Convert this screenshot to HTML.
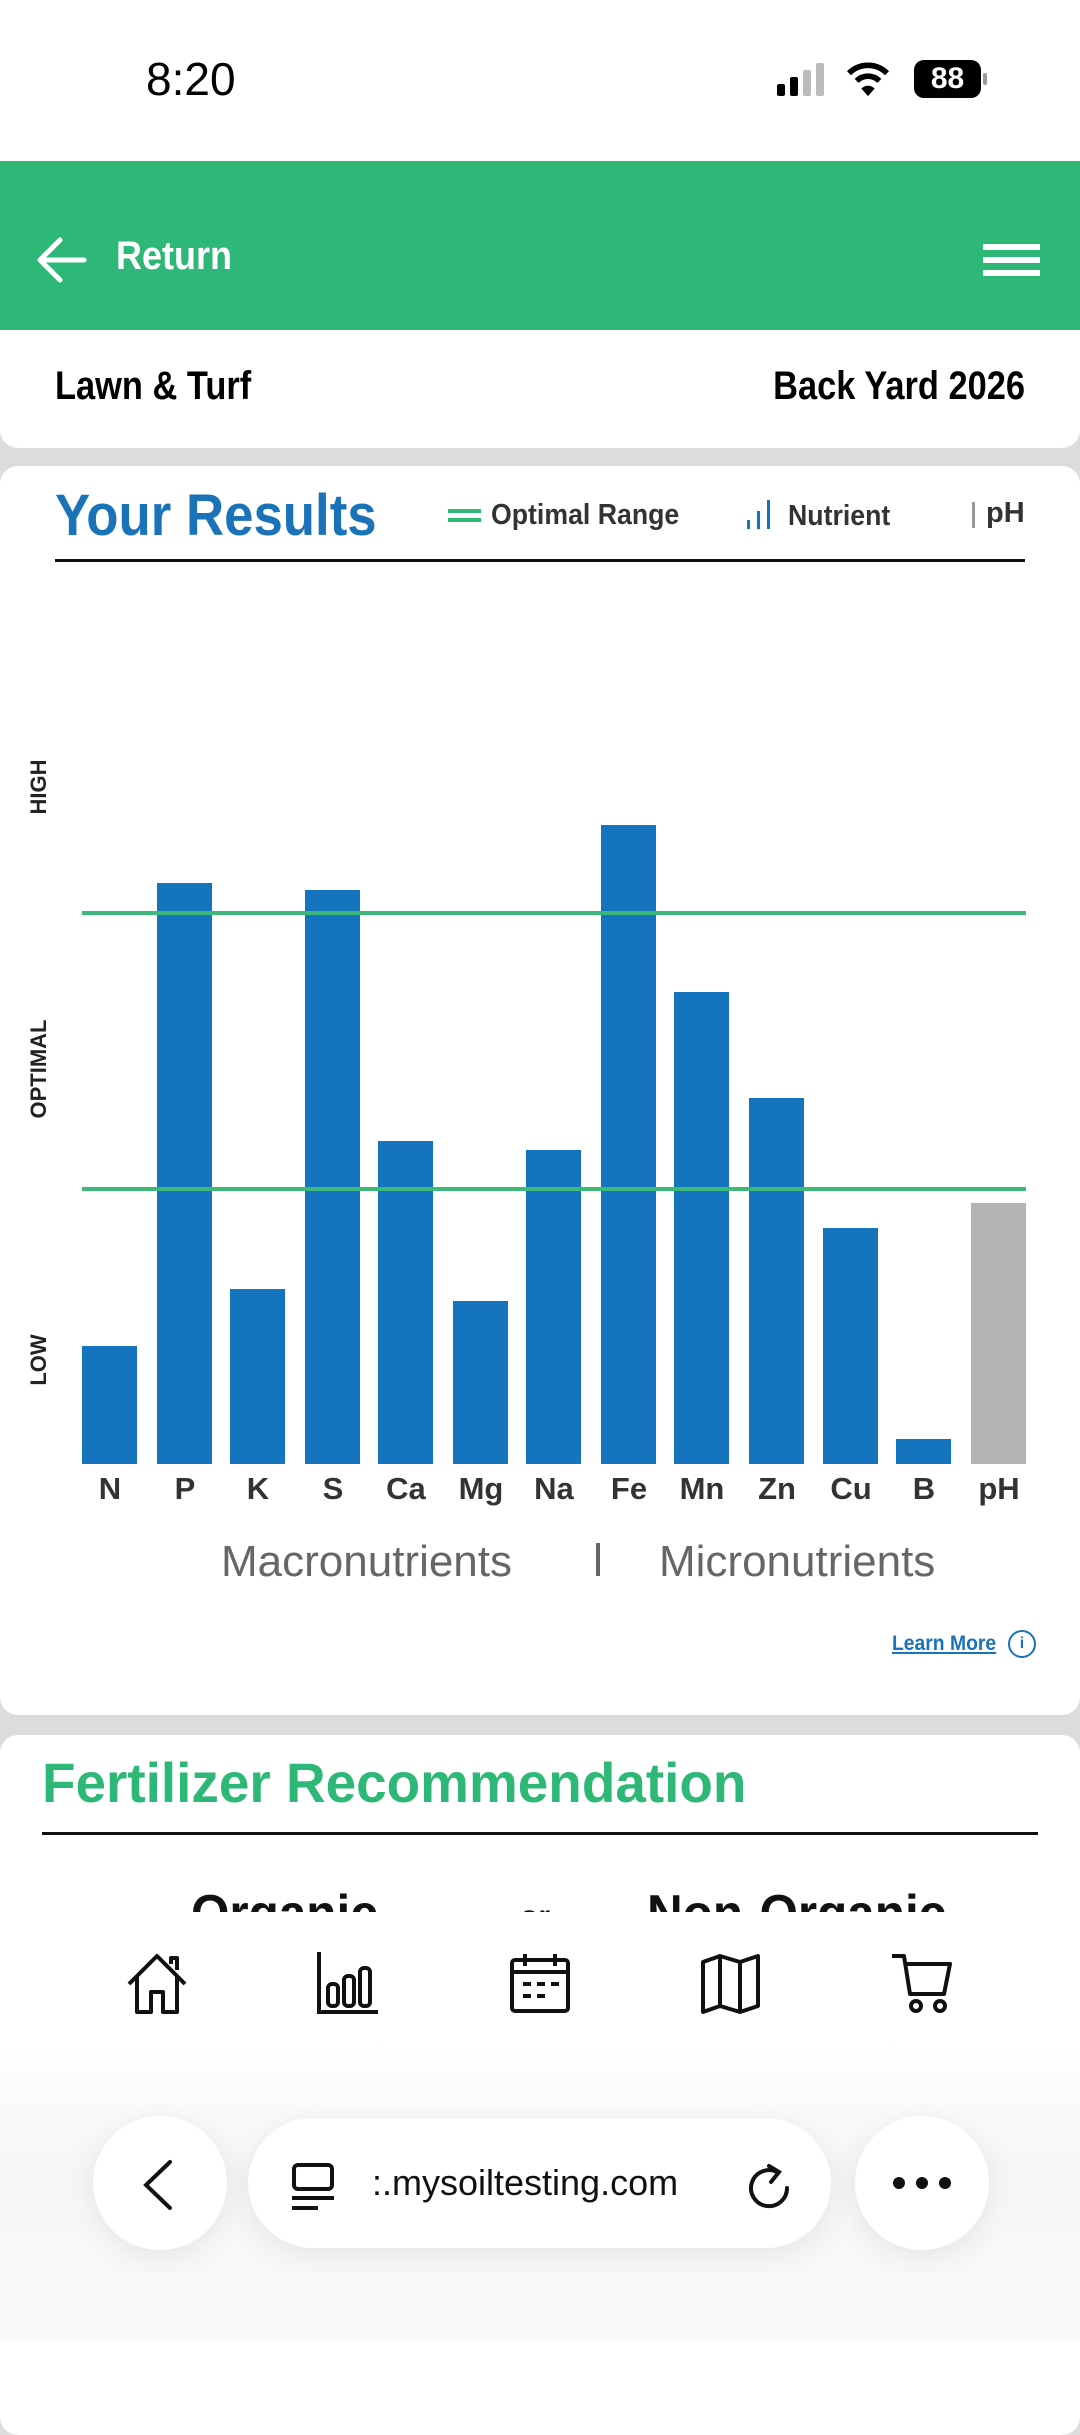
<!DOCTYPE html>
<html><head><meta charset="utf-8"><style>
*{margin:0;padding:0;box-sizing:border-box}
body{width:1080px;height:2341px;position:relative;overflow:hidden;background:#dcdcdc;font-family:"Liberation Sans Narrow","Liberation Sans",sans-serif}
.a{position:absolute;white-space:nowrap}
.n{transform-origin:left top}
.card{position:absolute;left:0;width:1080px;background:#fff;border-radius:18px}
.bar{position:absolute;width:55px;background:#1474be}
.xl{position:absolute;top:1471px;width:80px;text-align:center;font:bold 31px "Liberation Sans",sans-serif;color:#333}
.yl{position:absolute;font:bold 22px "Liberation Sans",sans-serif;color:#222;transform:rotate(-90deg);transform-origin:center}
</style></head><body>
<div class="a" style="left:0;top:0;width:1080px;height:161px;background:#fff"></div>
<div class="a" style="left:146px;top:52px;font:500 46px 'Liberation Sans',sans-serif;color:#000">8:20</div>
<div class="a" style="left:777px;top:84px;width:8px;height:12px;background:#000;border-radius:2px"></div>
<div class="a" style="left:790px;top:77px;width:8px;height:19px;background:#000;border-radius:2px"></div>
<div class="a" style="left:803px;top:70px;width:8px;height:26px;background:#bbb;border-radius:2px"></div>
<div class="a" style="left:816px;top:63px;width:8px;height:33px;background:#bbb;border-radius:2px"></div>
<svg class="a" style="left:846px;top:60px" width="44" height="38" viewBox="0 0 46 40"><path d="M3 14 A28 28 0 0 1 43 14" stroke="#000" stroke-width="6" fill="none"/><path d="M11 22 A17 17 0 0 1 35 22" stroke="#000" stroke-width="6" fill="none"/><path d="M16 30 L23 38 L30 30 A10 10 0 0 0 16 30Z" fill="#000"/></svg>
<div class="a" style="left:914px;top:60px;width:67px;height:38px;background:#000;border-radius:10px;color:#fff;font:bold 30px 'Liberation Sans',sans-serif;text-align:center;line-height:38px">88</div>
<div class="a" style="left:983px;top:73px;width:4px;height:12px;background:#999;border-radius:2px"></div>
<div class="a" style="left:0;top:161px;width:1080px;height:193px;background:#2eb877"></div>
<svg class="a" style="left:34px;top:236px" width="54" height="48"><path d="M50 24H6M26 4L6 24L26 44" stroke="#fff" stroke-width="5" fill="none" stroke-linecap="round" stroke-linejoin="round"/></svg>
<div class="a n" style="left:116px;top:234px;font:bold 40px 'Liberation Sans',sans-serif;color:#fff;transform:scaleX(.9)">Return</div>
<div class="a" style="left:983px;top:244px;width:57px;height:6px;background:#fff"></div>
<div class="a" style="left:983px;top:257px;width:57px;height:6px;background:#fff"></div>
<div class="a" style="left:983px;top:270px;width:57px;height:6px;background:#fff"></div>
<div class="card" style="top:330px;height:118px;border-radius:0 0 18px 18px"></div>
<div class="a n" style="left:55px;top:364px;font:bold 40px 'Liberation Sans',sans-serif;color:#000;transform:scaleX(.86)">Lawn &amp; Turf</div>
<div class="a" style="left:1025px;top:364px;transform:translateX(-100%) scaleX(.86);transform-origin:right top;font:bold 40px 'Liberation Sans',sans-serif;color:#000">Back Yard 2026</div>
<div class="card" style="top:466px;height:1249px"></div>
<div class="a n" style="left:55px;top:482px;font:bold 58px 'Liberation Sans',sans-serif;color:#1a73b8;transform:scaleX(.91)">Your Results</div>
<div class="a" style="left:448px;top:509px;width:33px;height:4px;background:#2eb877"></div>
<div class="a" style="left:448px;top:518px;width:33px;height:4px;background:#2eb877"></div>
<div class="a n" style="left:491px;top:499px;font:bold 29px 'Liberation Sans',sans-serif;color:#333;transform:scaleX(.92)">Optimal Range</div>
<div class="a" style="left:747px;top:520px;width:3px;height:9px;background:#1474be"></div>
<div class="a" style="left:757px;top:511px;width:3px;height:18px;background:#1474be"></div>
<div class="a" style="left:767px;top:500px;width:3px;height:29px;background:#1474be"></div>
<div class="a n" style="left:788px;top:500px;font:bold 29px 'Liberation Sans',sans-serif;color:#333;transform:scaleX(.92)">Nutrient</div>
<div class="a" style="left:972px;top:502px;width:3px;height:26px;background:#999"></div>
<div class="a" style="left:986px;top:497px;font:bold 29px 'Liberation Sans',sans-serif;color:#333">pH</div>
<div class="a" style="left:55px;top:559px;width:970px;height:3px;background:#111"></div>
<div class="yl" style="left:4px;top:774px;width:70px;text-align:center">HIGH</div>
<div class="yl" style="left:-16px;top:1056px;width:110px;text-align:center">OPTIMAL</div>
<div class="yl" style="left:9px;top:1347px;width:60px;text-align:center">LOW</div>
<div class="bar" style="left:82px;top:1346px;height:118px"></div>
<div class="bar" style="left:157px;top:883px;height:581px"></div>
<div class="bar" style="left:230px;top:1289px;height:175px"></div>
<div class="bar" style="left:305px;top:890px;height:574px"></div>
<div class="bar" style="left:378px;top:1141px;height:323px"></div>
<div class="bar" style="left:453px;top:1301px;height:163px"></div>
<div class="bar" style="left:526px;top:1150px;height:314px"></div>
<div class="bar" style="left:601px;top:825px;height:639px"></div>
<div class="bar" style="left:674px;top:992px;height:472px"></div>
<div class="bar" style="left:749px;top:1098px;height:366px"></div>
<div class="bar" style="left:823px;top:1228px;height:236px"></div>
<div class="bar" style="left:896px;top:1439px;height:25px"></div>
<div class="bar" style="left:971px;top:1203px;height:261px;background:#b3b3b3"></div>
<div class="a" style="left:82px;top:911px;width:944px;height:4px;background:#3cb878"></div>
<div class="a" style="left:82px;top:1187px;width:944px;height:4px;background:#3cb878"></div>
<div class="xl" style="left:70px">N</div>
<div class="xl" style="left:145px">P</div>
<div class="xl" style="left:218px">K</div>
<div class="xl" style="left:293px">S</div>
<div class="xl" style="left:366px">Ca</div>
<div class="xl" style="left:441px">Mg</div>
<div class="xl" style="left:514px">Na</div>
<div class="xl" style="left:589px">Fe</div>
<div class="xl" style="left:662px">Mn</div>
<div class="xl" style="left:737px">Zn</div>
<div class="xl" style="left:811px">Cu</div>
<div class="xl" style="left:884px">B</div>
<div class="xl" style="left:959px">pH</div>
<div class="a" style="left:221px;top:1537px;font:44px 'Liberation Sans',sans-serif;color:#666">Macronutrients</div>
<div class="a" style="left:596px;top:1543px;width:4px;height:33px;background:#666"></div>
<div class="a" style="left:659px;top:1537px;font:44px 'Liberation Sans',sans-serif;color:#666">Micronutrients</div>
<div class="a n" style="left:892px;top:1632px;font:bold 21px 'Liberation Sans',sans-serif;color:#1a73b8;text-decoration:underline;transform:scaleX(.92)">Learn More</div>
<div class="a" style="left:1008px;top:1630px;width:28px;height:28px;border:2.5px solid #1a73b8;border-radius:50%;color:#1a73b8;font:bold 16px 'Liberation Sans',sans-serif;text-align:center;line-height:23px">i</div>
<div class="card" style="top:1735px;height:700px"></div>
<div class="a n" style="left:42px;top:1750px;font:bold 56px 'Liberation Sans',sans-serif;color:#2eb877;transform:scaleX(.98)">Fertilizer Recommendation</div>
<div class="a" style="left:42px;top:1832px;width:996px;height:3px;background:#111"></div>
<div class="a" style="left:0;top:1880px;width:1080px;height:32px;overflow:hidden">
<div class="a n" style="left:191px;top:4px;font:bold 52px 'Liberation Sans',sans-serif;color:#111;transform:scaleX(.95)">Organic</div>
<div class="a" style="left:520px;top:20px;font:bold 30px 'Liberation Sans',sans-serif;color:#111">or</div>
<div class="a n" style="left:647px;top:4px;font:bold 52px 'Liberation Sans',sans-serif;color:#111;transform:scaleX(.95)">Non-Organic</div>
</div>
<div class="a" style="left:0;top:1912px;width:1080px;height:429px;background:linear-gradient(#fff 0%,#fff 30%,#f6f6f6 60%,#fafafa 100%)"></div>
<svg class="a" style="left:125px;top:1950px" width="64" height="66" fill="none" stroke="#111" stroke-width="4" stroke-linejoin="round"><path d="M4 34L32 6L60 34M12 26V62H26V42H38V62H52V26M46 14V8H52V20"/></svg>
<svg class="a" style="left:316px;top:1950px" width="64" height="66" fill="none" stroke="#111" stroke-width="4"><path d="M3 2V62H62"/><rect x="12" y="34" width="10" height="22" rx="4"/><rect x="28" y="26" width="10" height="30" rx="4"/><rect x="44" y="18" width="10" height="38" rx="4"/></svg>
<svg class="a" style="left:509px;top:1952px" width="62" height="62" fill="none" stroke="#111" stroke-width="4"><rect x="3" y="8" width="56" height="51" rx="3"/><path d="M3 20H59M16 2V14M46 2V14M14 32H22M28 32H36M42 32H50M14 44H22M28 44H36"/></svg>
<svg class="a" style="left:700px;top:1952px" width="62" height="64" fill="none" stroke="#111" stroke-width="4" stroke-linejoin="round"><path d="M3 10L20 4L40 10L58 4V54L40 60L20 54L3 60Z M20 4V54 M40 10V60"/></svg>
<svg class="a" style="left:890px;top:1950px" width="64" height="66" fill="none" stroke="#111" stroke-width="4" stroke-linejoin="round"><path d="M2 6H14L20 44H54L60 14H16"/><circle cx="26" cy="56" r="5"/><circle cx="50" cy="56" r="5"/></svg>
<div class="a" style="left:93px;top:2116px;width:134px;height:134px;border-radius:50%;background:#fff;box-shadow:0 6px 30px rgba(0,0,0,.08)"></div>
<svg class="a" style="left:138px;top:2158px" width="40" height="54" fill="none" stroke="#111" stroke-width="4" stroke-linecap="round"><path d="M32 4L8 27L32 50"/></svg>
<div class="a" style="left:248px;top:2118px;width:583px;height:130px;border-radius:65px;background:#fff;box-shadow:0 6px 30px rgba(0,0,0,.08)"></div>
<svg class="a" style="left:290px;top:2162px" width="46" height="50" fill="none" stroke="#111" stroke-width="4"><rect x="4" y="3" width="38" height="24" rx="4"/><path d="M2 36H44M2 46H28"/></svg>
<div class="a" style="left:372px;top:2162px;font:36px 'Liberation Sans',sans-serif;color:#111">:.mysoiltesting.com</div>
<svg class="a" style="left:747px;top:2162px" width="46" height="50" fill="none" stroke="#111" stroke-width="4" stroke-linecap="round"><path d="M30 10A18 18 0 1 0 40 26M22 4L32 10L24 20"/></svg>
<div class="a" style="left:855px;top:2116px;width:134px;height:134px;border-radius:50%;background:#fff;box-shadow:0 6px 30px rgba(0,0,0,.08)"></div>
<div class="a" style="left:893px;top:2177px;width:12px;height:12px;border-radius:50%;background:#111"></div>
<div class="a" style="left:916px;top:2177px;width:12px;height:12px;border-radius:50%;background:#111"></div>
<div class="a" style="left:939px;top:2177px;width:12px;height:12px;border-radius:50%;background:#111"></div>
</body></html>
